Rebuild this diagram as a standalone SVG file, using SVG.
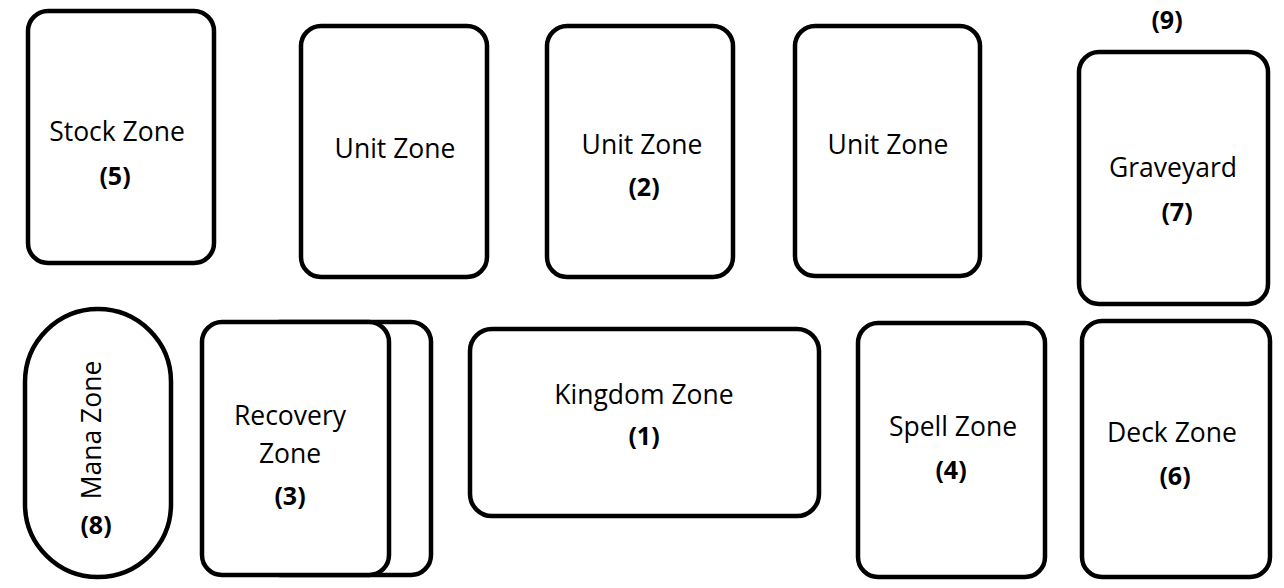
<svg xmlns="http://www.w3.org/2000/svg" width="1284" height="588" viewBox="0 0 1284 588">
<style>
.z{fill:#fff;stroke:#000;stroke-width:4.5}
.t{font-family:"Open Sans","Noto Sans",sans-serif;font-size:26.5px;fill:#000;text-anchor:middle}
.b{font-family:"Open Sans","Noto Sans",sans-serif;font-size:25px;font-weight:bold;fill:#000;text-anchor:middle}
</style>
<rect width="1284" height="588" fill="#fff"/>
<g id="stock"><rect class="z" x="28" y="11" width="186" height="252" rx="20"/><text class="t" x="117" y="141">Stock Zone</text><text class="b" x="115" y="185">(5)</text></g>
<g id="unit1"><rect class="z" x="301" y="26" width="186" height="251" rx="20"/><text class="t" x="395" y="158">Unit Zone</text></g>
<g id="unit2"><rect class="z" x="547" y="26" width="186" height="251" rx="20"/><text class="t" x="642" y="154">Unit Zone</text><text class="b" x="644" y="196">(2)</text></g>
<g id="unit3"><rect class="z" x="795" y="26" width="185" height="250" rx="20"/><text class="t" x="888" y="154">Unit Zone</text></g>
<g id="label9"><text class="b" x="1167" y="29">(9)</text></g>
<g id="graveyard"><rect class="z" x="1079" y="52" width="189" height="252" rx="20"/><text class="t" x="1173" y="177">Graveyard</text><text class="b" x="1177" y="221">(7)</text></g>
<g id="mana"><rect class="z" x="25" y="309" width="146" height="268" rx="73" ry="73"/><text class="t" transform="translate(101,430) rotate(-90)" x="0" y="0">Mana Zone</text><text class="b" x="96" y="534">(8)</text></g>
<g id="recovery"><rect class="z" x="260" y="322" width="171" height="253" rx="20"/><rect class="z" x="202" y="322" width="187" height="253" rx="20"/><text class="t" x="290" y="425">Recovery</text><text class="t" x="290" y="463">Zone</text><text class="b" x="290" y="505">(3)</text></g>
<g id="kingdom"><rect class="z" x="470" y="329" width="349" height="187" rx="22"/><text class="t" x="644" y="404">Kingdom Zone</text><text class="b" x="644" y="445">(1)</text></g>
<g id="spell"><rect class="z" x="858" y="323" width="187" height="254" rx="20"/><text class="t" x="953" y="436">Spell Zone</text><text class="b" x="951" y="479">(4)</text></g>
<g id="deck"><rect class="z" x="1082" y="321" width="188" height="256" rx="20"/><text class="t" x="1172" y="442">Deck Zone</text><text class="b" x="1175" y="485">(6)</text></g>
<g id="connectors"></g>
</svg>
